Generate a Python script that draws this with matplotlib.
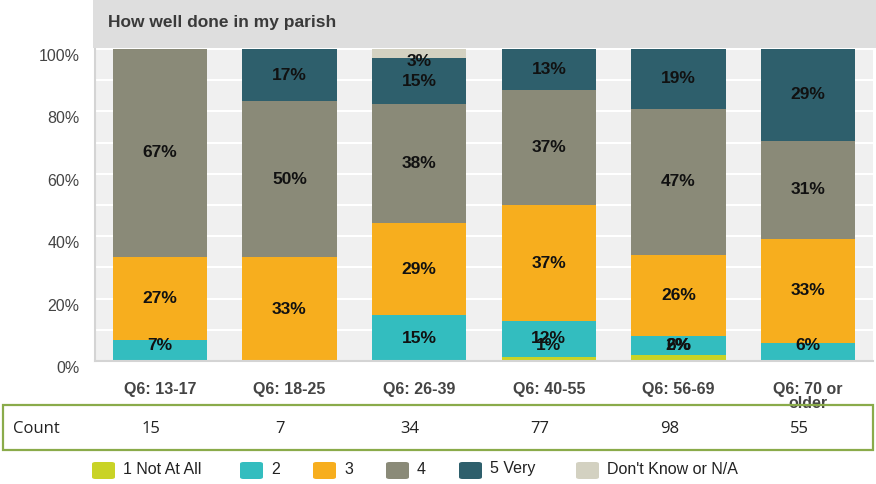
import matplotlib
matplotlib.use("Agg")
import matplotlib.pyplot as plt
import matplotlib.transforms as mtransforms
from matplotlib.patches import Rectangle, FancyBboxPatch
import numpy as np

categories = ["Q6: 13-17", "Q6: 18-25", "Q6: 26-39", "Q6: 40-55", "Q6: 56-69", "Q6: 70 or\nolder"]
series_names = ["1 Not At All", "2", "3", "4", "5 Very", "Don't Know or N/A"]
colors = ["#c9d326", "#33bdbf", "#f7ae1e", "#8a8a78", "#2e5f6c", "#d3d1c1"]

s1_not_at_all = [0.0, 0.0, 0.0, 1.3, 1.8, 0.0]
s2 = [6.7, 0.0, 14.7, 11.6, 6.3, 5.8]
s3 = [26.7, 33.3, 29.4, 37.0, 25.8, 33.4]
s4 = [66.6, 50.0, 38.2, 37.1, 47.0, 31.4]
s5_very = [0.0, 16.7, 14.8, 13.0, 19.1, 29.4]
s_dk = [0.0, 0.0, 2.9, 0.0, 0.0, 0.0]
counts = [15, 7, 34, 77, 98, 55]

series = [s1_not_at_all, s2, s3, s4, s5_very, s_dk]

W, H = 876, 484
fig = plt.figure(figsize=(W / 100, H / 100), dpi=100)
fig.patch.set_facecolor("white")

# title band
fig.patches.append(Rectangle((93 / W, 1 - 48 / H), 1 - 93 / W, 48 / H,
                             transform=fig.transFigure, facecolor="#dedede",
                             edgecolor="none", zorder=0))
fig.text(108 / W, 1 - 22 / H, "How well done in my parish", fontsize=12.5,
         fontweight="bold", color="#3a3a3a", va="center", ha="left",
         family=["Liberation Sans", "DejaVu Sans"])

ax = fig.add_axes([95 / W, (H - 361) / H, (873 - 95) / W, (361 - 49) / H])
ax.set_facecolor("#f0f0f0")
x = np.arange(len(categories))
bottom = np.zeros(len(categories))
for vals, col in zip(series, colors):
    v = np.array(vals)
    ax.bar(x, v, bottom=bottom, width=0.725, color=col, edgecolor="none", zorder=2)
    for xi, (b, val) in enumerate(zip(bottom, v)):
        if val > 0:
            yc = min(max(b + val / 2, 5.0), 96.0)
            ax.text(xi, yc, f"{round(val)}%", ha="center", va="center",
                    fontsize=12.5, fontweight="bold", color="#111111", zorder=3,
                    family=["Liberation Sans", "DejaVu Sans"])
    bottom += v

ax.set_xlim(-0.5, len(categories) - 0.5)
ax.set_ylim(0, 100)
ax.set_yticks(np.arange(0, 101, 20))
ax.set_yticklabels([f"{t}%" for t in range(0, 101, 20)])
ax.set_yticks(np.arange(0, 101, 10), minor=True)
ax.grid(axis="y", which="both", color="white", linewidth=1.5, zorder=1)
ax.set_axisbelow(True)
ax.set_xticks(x)
ax.set_xticklabels(categories)
for sp in ["top", "right"]:
    ax.spines[sp].set_visible(False)
for sp in ["left", "bottom"]:
    ax.spines[sp].set_color("#d4d4d4")
    ax.spines[sp].set_linewidth(1.5)
ax.tick_params(axis="both", which="both", length=0)
ax.tick_params(axis="y", pad=11, labelsize=11.5, labelcolor="#444444")
ax.tick_params(axis="x", pad=15, labelsize=11.5, labelcolor="#444444")
for lab in ax.get_yticklabels():
    lab.set_family(["Liberation Sans", "DejaVu Sans"])
    lab.set_transform(lab.get_transform() + mtransforms.ScaledTranslation(0, -6 / 100, fig.dpi_scale_trans))
for lab in ax.get_xticklabels():
    lab.set_family(["Liberation Sans", "DejaVu Sans"])
    lab.set_fontweight("bold")
    lab.set_verticalalignment("top")
    lab.set_linespacing(0.9)

# count table
fig.patches.append(Rectangle((3 / W, 1 - 450 / H), 870 / W, 45 / H,
                             transform=fig.transFigure, facecolor="none",
                             edgecolor="#8aab4a", linewidth=1.6, zorder=1))
tfont = ["Open Sans", "DejaVu Sans"]
fig.text(13 / W, 1 - 429 / H, "Count", fontsize=12, color="#222222", va="center",
         ha="left", family=tfont)
trans = mtransforms.blended_transform_factory(ax.transData, fig.transFigure)
for xi, c in enumerate(counts):
    fig.text(xi - 0.07, 1 - 429 / H, str(c), transform=trans, fontsize=12,
             color="#222222", va="center", ha="center", family=tfont)

# legend
leg_sq_x = [92, 240, 313, 386, 459, 576]
for lx, name, col in zip(leg_sq_x, series_names, colors):
    fig.patches.append(FancyBboxPatch((lx / W, 1 - 479 / H), 23 / W, 17 / H,
                                      boxstyle="round,pad=0,rounding_size=0.004",
                                      transform=fig.transFigure, facecolor=col,
                                      edgecolor="none"))
    fig.text((lx + 31) / W, 1 - 469 / H, name, fontsize=11.5, color="#222222",
             va="center", ha="left", family=["Liberation Sans", "DejaVu Sans"])

fig.savefig("out.png", dpi=100)
